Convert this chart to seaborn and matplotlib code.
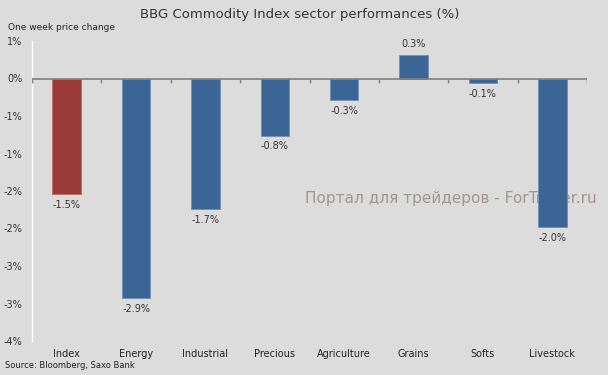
import pandas as pd
import matplotlib
matplotlib.use("Agg")
import matplotlib.pyplot as plt
import seaborn as sns

# 数据
categories = ['Index', 'Energy', 'Industrial', 'Precious', 'Agriculture', 'Grains', 'Softs', 'Livestock']
values = [-1.54, -2.93, -1.74, -0.76, -0.29, 0.32, -0.06, -1.98]
bar_colors = ['#9a3b38', '#3a6595', '#3a6595', '#3a6595', '#3a6595', '#3a6595', '#3a6595', '#3a6595']
ytick_values = [0.5, 0.0, -0.5, -1.0, -1.5, -2.0, -2.5, -3.0, -3.5]
ytick_labels = ['1%', '0%', '-1%', '-1%', '-2%', '-2%', '-3%', '-3%', '-4%']

df = pd.DataFrame({'sector': categories, 'change': values})

sns.set_style("white")
plt.rcParams['font.family'] = ['DejaVu Sans']

bg = '#dcdcdc'
fig = plt.figure(figsize=(6.08, 3.75), dpi=100, facecolor=bg)
ax = fig.add_axes([32 / 608, 1 - 341 / 375, 555 / 608, 300 / 375])
ax.patch.set_alpha(0)

sns.barplot(data=df, x='sector', y='change', hue='sector', palette=bar_colors,
            legend=False, width=0.41, ax=ax, saturation=1, edgecolor='#6f8fb5', linewidth=0.6)
ax.patches[0].set_edgecolor('#b86a66')

# 数值标签
for bars, v in zip(ax.containers, values):
    ax.bar_label(bars, labels=[f'{v:.1f}%'], padding=4, fontsize=7, color='#333333')

ax.set_ylim(-3.5, 0.5)
ax.set_xlim(-0.5, len(categories) - 0.5)
ax.set_yticks(ytick_values)
ax.set_yticklabels(ytick_labels)
ax.set_xlabel('')
ax.set_ylabel('')

# 零线和分隔刻度
ax.axhline(0, color='#7f7f7f', lw=1.2, zorder=3)
bounds = [i - 0.5 for i in range(len(categories) + 1)]
ax.vlines(bounds, -0.055, 0, color='#7f7f7f', lw=1, zorder=3)

for s in ['top', 'right', 'bottom']:
    ax.spines[s].set_visible(False)
ax.spines['left'].set_color('white')
ax.spines['left'].set_linewidth(1)
ax.tick_params(axis='y', colors='white', length=3, width=1, labelcolor='#333333', labelsize=7, pad=4)
ax.tick_params(axis='x', length=0, labelsize=7, labelcolor='#222222', pad=6)

fig.text(0.493, 0.962, 'BBG Commodity Index sector performances (%)', ha='center', va='center',
         fontsize=9.5, color='#333333')
fig.text(0.013, 0.928, 'One week price change', ha='left', va='center', fontsize=6.5, color='#222222')
fig.text(0.008, 0.024, 'Source: Bloomberg, Saxo Bank', ha='left', va='center', fontsize=6, color='#222222')
# 水印（在柱子后面）
fig.text(0.982, 0.47, 'Портал для трейдеров - ForTrader.ru', ha='right', va='center',
         fontsize=11, color='#a39593', zorder=-1)

fig.savefig('out.png', dpi=100, facecolor=bg)
